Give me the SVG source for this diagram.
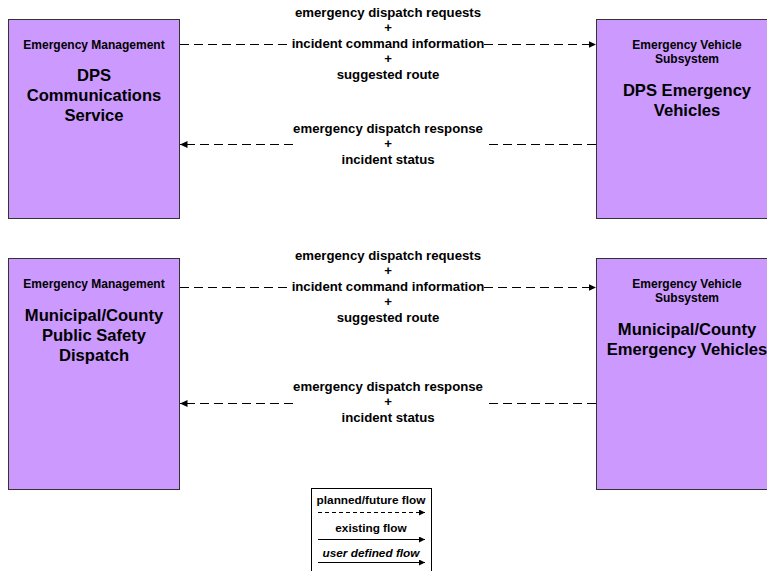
<svg xmlns="http://www.w3.org/2000/svg" width="767" height="571" viewBox="0 0 767 571">
<defs>
<style>
.box{fill:#CC99FF;stroke:#333333;stroke-width:1}
text{font-family:"Liberation Sans",Arial,sans-serif;font-weight:bold;fill:#000;text-anchor:middle}
.sm{font-size:12px}
.big{font-size:16.6px}
.lbl{font-size:13.2px}
.leg{font-size:11.8px}
.flow{stroke:#000;stroke-width:1;fill:none;stroke-dasharray:9 5}
.solid{stroke:#000;stroke-width:1;fill:none}
</style>
<marker id="ah" markerWidth="8" markerHeight="7" refX="7.5" refY="3.5" orient="auto" markerUnits="userSpaceOnUse">
<path d="M0,0 L7.5,3.5 L0,7 z" fill="#000"/>
</marker>
<marker id="ahs" markerWidth="7" markerHeight="6" refX="6" refY="3" orient="auto" markerUnits="userSpaceOnUse">
<path d="M0,0 L6,3 L0,6 z" fill="#000"/>
</marker>
</defs>
<rect width="767" height="571" fill="#fff"/>

<g id="dps-comm">
<rect class="box" x="8.5" y="19.5" width="171" height="199"/>
<text class="sm" x="94" y="49">Emergency Management</text>
<text class="big" x="94" y="81">DPS</text>
<text class="big" x="94" y="101">Communications</text>
<text class="big" x="94" y="121">Service</text>
</g>

<g id="dps-veh">
<rect class="box" x="596.5" y="19.5" width="180" height="199"/>
<text class="sm" x="687" y="49">Emergency Vehicle</text>
<text class="sm" x="687" y="63">Subsystem</text>
<text class="big" x="687" y="96">DPS Emergency</text>
<text class="big" x="687" y="116">Vehicles</text>
</g>

<g id="muni-dispatch">
<rect class="box" x="8.5" y="258.5" width="171" height="231"/>
<text class="sm" x="94" y="288">Emergency Management</text>
<text class="big" x="94" y="321">Municipal/County</text>
<text class="big" x="94" y="341">Public Safety</text>
<text class="big" x="94" y="361">Dispatch</text>
</g>

<g id="muni-veh">
<rect class="box" x="596.5" y="258.5" width="180" height="231"/>
<text class="sm" x="687" y="288">Emergency Vehicle</text>
<text class="sm" x="687" y="302">Subsystem</text>
<text class="big" x="687" y="335">Municipal/County</text>
<text class="big" x="687" y="355">Emergency Vehicles</text>
</g>

<g id="connectors">
<line class="flow" x1="180" y1="44.5" x2="291" y2="44.5"/>
<line class="flow" x1="484" y1="44.5" x2="596" y2="44.5" marker-end="url(#ah)"/>
<line class="flow" x1="596" y1="144.5" x2="487" y2="144.5"/>
<line class="flow" x1="293" y1="144.5" x2="180" y2="144.5" marker-end="url(#ah)"/>

<line class="flow" x1="180" y1="287.5" x2="291" y2="287.5"/>
<line class="flow" x1="484" y1="287.5" x2="596" y2="287.5" marker-end="url(#ah)"/>
<line class="flow" x1="596" y1="403.5" x2="487" y2="403.5"/>
<line class="flow" x1="293" y1="403.5" x2="180" y2="403.5" marker-end="url(#ah)"/>
</g>

<g id="labels">
<text class="lbl" x="388" y="17">emergency dispatch requests</text>
<text class="lbl" x="388" y="32">+</text>
<text class="lbl" x="388" y="48">incident command information</text>
<text class="lbl" x="388" y="63">+</text>
<text class="lbl" x="388" y="79">suggested route</text>
<text class="lbl" x="388" y="133">emergency dispatch response</text>
<text class="lbl" x="388" y="148">+</text>
<text class="lbl" x="388" y="164">incident status</text>

<text class="lbl" x="388" y="260">emergency dispatch requests</text>
<text class="lbl" x="388" y="275">+</text>
<text class="lbl" x="388" y="291">incident command information</text>
<text class="lbl" x="388" y="306">+</text>
<text class="lbl" x="388" y="322">suggested route</text>
<text class="lbl" x="388" y="391">emergency dispatch response</text>
<text class="lbl" x="388" y="406">+</text>
<text class="lbl" x="388" y="422">incident status</text>
</g>

<g id="legend">
<rect x="311.5" y="488.5" width="120" height="90" fill="#fff" stroke="#000" stroke-width="1"/>
<text class="leg" x="371" y="504">planned/future flow</text>
<line x1="318" y1="512.5" x2="425" y2="512.5" stroke="#000" stroke-width="1" stroke-dasharray="4 3" marker-end="url(#ahs)"/>
<text class="leg" x="371" y="532">existing flow</text>
<line class="solid" x1="318" y1="539.5" x2="425" y2="539.5" marker-end="url(#ahs)"/>
<text class="leg" x="371" y="557" style="font-style:italic">user defined flow</text>
<line class="solid" x1="318" y1="562.5" x2="425" y2="562.5" marker-end="url(#ahs)"/>
</g>
</svg>
